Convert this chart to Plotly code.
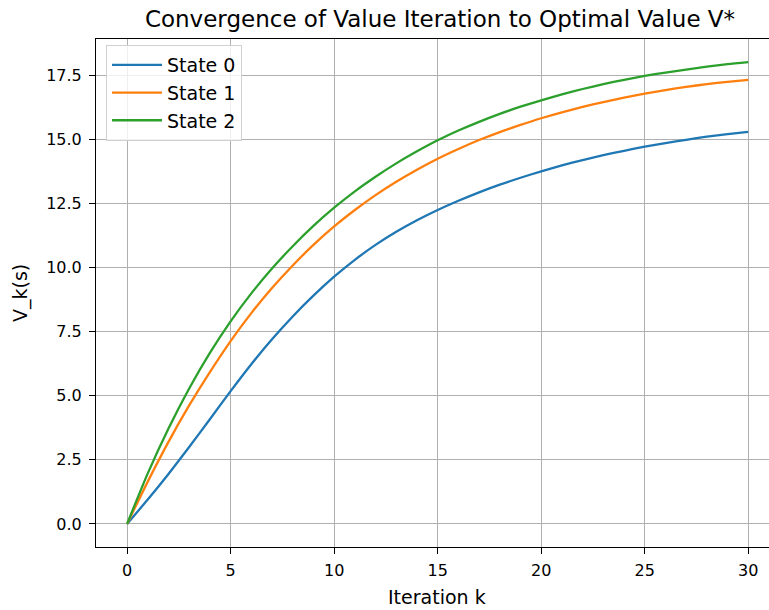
import plotly.graph_objects as go

iterations = list(range(31))

state0 = [0.0, 0.95, 1.95, 3.0, 4.08, 5.18, 6.23, 7.2, 8.09, 8.9, 9.64,
          10.3, 10.88, 11.39, 11.84, 12.24, 12.6, 12.93, 13.23, 13.5, 13.75,
          13.98, 14.19, 14.38, 14.55, 14.71, 14.85, 14.98, 15.1, 15.2, 15.29]
state1 = [0.0, 1.65, 3.2, 4.62, 5.92, 7.13, 8.22, 9.2, 10.08, 10.88, 11.6,
          12.24, 12.82, 13.34, 13.81, 14.24, 14.62, 14.97, 15.28, 15.56, 15.82,
          16.05, 16.26, 16.45, 16.62, 16.78, 16.92, 17.04, 17.15, 17.24, 17.32]
state2 = [0.0, 1.97, 3.72, 5.28, 6.67, 7.9, 8.99, 9.96, 10.83, 11.62, 12.33,
          12.97, 13.54, 14.06, 14.53, 14.96, 15.34, 15.68, 15.99, 16.27, 16.52,
          16.75, 16.96, 17.15, 17.32, 17.47, 17.6, 17.72, 17.83, 17.93, 18.01]

series_names = ["State 0", "State 1", "State 2"]
series_values = [state0, state1, state2]
colors = ["#1f77b4", "#ff7f0e", "#2ca02c"]

x_ticks = [0, 5, 10, 15, 20, 25, 30]
y_ticks = [0.0, 2.5, 5.0, 7.5, 10.0, 12.5, 15.0, 17.5]

FONT = "DejaVu Sans"
W, H = 769, 610
ML, MR, MT, MB = 96, 0, 39, 63

fig = go.Figure()
for name, vals, col in zip(series_names, series_values, colors):
    fig.add_trace(go.Scatter(x=iterations, y=vals, mode="lines", name=name,
                             legendgroup=name,
                             line=dict(color=col, width=2.3, shape="spline",
                                       smoothing=0.6)))

axis_common = dict(
    showgrid=True, gridcolor="#b0b0b0", gridwidth=1,
    zeroline=False, showline=True, linecolor="black", linewidth=1,
    ticks="outside", ticklen=6, tickwidth=1, tickcolor="black",
    tickfont=dict(family=FONT, size=16, color="black"),
)

fig.update_layout(
    width=W, height=H,
    margin=dict(l=ML, r=MR, t=MT, b=MB),
    paper_bgcolor="white", plot_bgcolor="white",
    font=dict(family=FONT, color="black"),
    title=dict(text="Convergence of Value Iteration to Optimal Value V*",
               x=(440 - ML) / (W - ML), xanchor="center", xref="paper",
               y=1 - 19 / H, yanchor="middle", yref="container",
               font=dict(family=FONT, size=23, color="black")),
    xaxis=dict(range=[-1.5, 31.0], tickvals=x_ticks, mirror=True,
               ticklabelstandoff=3, **axis_common),
    yaxis=dict(range=[-0.9, 18.91], tickvals=y_ticks, tickformat=".1f",
               mirror=False, ticklabelstandoff=4, **axis_common),
    legend=dict(x=(106 - ML) / (W - ML), y=(547 - 45) / (H - MT - MB),
                xanchor="left", yanchor="top",
                bgcolor="rgba(255,255,255,0.8)", bordercolor="#d0d0d0",
                borderwidth=1, traceorder="grouped", tracegroupgap=0,
                itemwidth=50,
                font=dict(family=FONT, size=19, color="black")),
    showlegend=True,
)

fig.add_annotation(text="Iteration k", xref="paper", yref="paper",
                   x=(437 - ML) / (W - ML), y=(547 - 597) / (H - MT - MB),
                   xanchor="center", yanchor="middle", showarrow=False,
                   font=dict(family=FONT, size=19, color="black"))
fig.add_annotation(text="V_k(s)", xref="paper", yref="paper",
                   x=(20 - ML) / (W - ML), y=0.5, textangle=-90,
                   xanchor="center", yanchor="middle", showarrow=False,
                   font=dict(family=FONT, size=19, color="black"))

fig.write_html("out.html")
